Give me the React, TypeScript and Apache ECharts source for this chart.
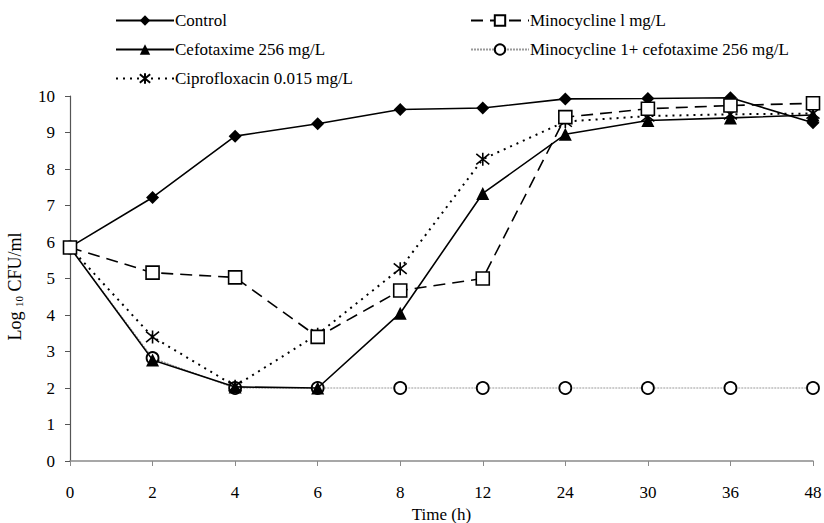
import React, { useEffect, useRef } from "react";
import * as echarts from "echarts";

const timeLabels = ["0", "2", "4", "6", "8", "12", "24", "30", "36", "48"];
const control = [5.86, 7.22, 8.9, 9.24, 9.63, 9.67, 9.92, 9.93, 9.95, 9.27];
const cefotaxime = [5.85, 2.77, 2.03, 2.0, 4.05, 7.33, 8.95, 9.33, 9.4, 9.48];
const ciprofloxacin = [5.85, 3.4, 2.05, 3.47, 5.27, 8.27, 9.3, 9.45, 9.5, 9.52];
const minocycline = [5.85, 5.16, 5.03, 3.4, 4.67, 5.0, 9.42, 9.65, 9.74, 9.8];
const minoCefo = [5.85, 2.82, 2.0, 2.0, 2.0, 2.0, 2.0, 2.0, 2.0, 2.0];

const FONT = "Liberation Serif";
const asterisk = "path://M-1,-1L1,1M-1,1L1,-1M0,-1.25L0,1.25";

export default function App() {
  const ref = useRef<HTMLDivElement>(null);
  useEffect(() => {
    if (!ref.current) return;
    const chart = echarts.init(ref.current, undefined, { renderer: "svg" });
    const textStyle = { fontFamily: FONT, fontSize: 17, color: "#000", fontWeight: "normal" };
    const legendText = { fontFamily: FONT, fontSize: 17, color: "#000", fontWeight: "normal", padding: [0, 0, 0, -4] };
    chart.setOption({
      animation: false,
      backgroundColor: "#fff",
      textStyle,
      grid: { left: 70, right: 11, top: 96, bottom: 62, containLabel: false, outerBoundsMode: "none" },
      legend: [
        {
          orient: "vertical",
          left: 115,
          top: 12,
          padding: 0,
          itemWidth: 58,
          itemHeight: 13,
          itemGap: 12,
          textStyle: legendText,
          data: ["Control", "Cefotaxime 256 mg/L", "Ciprofloxacin 0.015 mg/L"],
        },
        {
          orient: "vertical",
          left: 470,
          top: 12,
          padding: 0,
          itemWidth: 58,
          itemHeight: 13,
          itemGap: 12,
          textStyle: legendText,
          data: ["Minocycline l mg/L", "Minocycline 1+ cefotaxime 256 mg/L"],
        },
      ],
      xAxis: {
        type: "category",
        data: timeLabels,
        boundaryGap: false,
        name: "Time (h)",
        nameLocation: "middle",
        nameGap: 45,
        nameTextStyle: textStyle,
        axisLine: { lineStyle: { color: "#8a8a8a", width: 1.5 } },
        axisTick: { show: true, length: 5, inside: false, lineStyle: { color: "#8a8a8a" } },
        axisLabel: { ...textStyle, margin: 23 },
        splitLine: { show: false },
      },
      yAxis: {
        type: "value",
        min: 0,
        max: 10,
        interval: 1,
        name: "{a|Log }{b|10}{a| CFU/ml}",
        nameLocation: "middle",
        nameRotate: 90,
        nameGap: 46,
        nameTextStyle: {
          padding: [0, 16, 0, 0],
          rich: {
            a: { fontFamily: FONT, fontSize: 18, color: "#000" },
            b: { fontFamily: FONT, fontSize: 11, color: "#000", verticalAlign: "bottom", padding: [6, 0, 0, 0] },
          },
        },
        axisLine: { show: true, lineStyle: { color: "#555", width: 1.2 } },
        axisTick: { show: true, length: 5, lineStyle: { color: "#555" } },
        axisLabel: { ...textStyle, margin: 15 },
        splitLine: { show: false },
      },
      series: [
        {
          name: "Control",
          type: "line",
          data: control,
          symbol: "diamond",
          symbolSize: 13,
          lineStyle: { color: "#000", width: 1.6 },
          itemStyle: { color: "#000" },
          z: 5,
        },
        {
          name: "Cefotaxime 256 mg/L",
          type: "line",
          data: cefotaxime,
          symbol: "triangle",
          symbolSize: 13,
          lineStyle: { color: "#000", width: 1.6 },
          itemStyle: { color: "#000" },
          z: 4,
        },
        {
          name: "Ciprofloxacin 0.015 mg/L",
          type: "line",
          data: ciprofloxacin,
          symbol: asterisk,
          symbolSize: 13,
          showAllSymbol: true,
          lineStyle: { color: "#000", width: 2, type: [2, 5] },
          itemStyle: { color: "transparent", borderColor: "#000", borderWidth: 1.6 },
          z: 6,
        },
        {
          name: "Minocycline l mg/L",
          type: "line",
          data: minocycline,
          symbol: "rect",
          symbolSize: 13,
          lineStyle: { color: "#000", width: 1.6, type: [12, 7] },
          itemStyle: { color: "#fff", borderColor: "#000", borderWidth: 1.6 },
          z: 7,
        },
        {
          name: "Minocycline 1+ cefotaxime 256 mg/L",
          type: "line",
          data: minoCefo,
          symbol: "circle",
          symbolSize: 12,
          lineStyle: { color: "#9a9a9a", width: 1.2, type: [2, 1] },
          itemStyle: { color: "#fff", borderColor: "#000", borderWidth: 1.8 },
          z: 3,
        },
      ],
    });
    return () => chart.dispose();
  }, []);
  return <div ref={ref} style={{ width: 824, height: 523, position: "absolute", left: 0, top: 0 }} />;
}
